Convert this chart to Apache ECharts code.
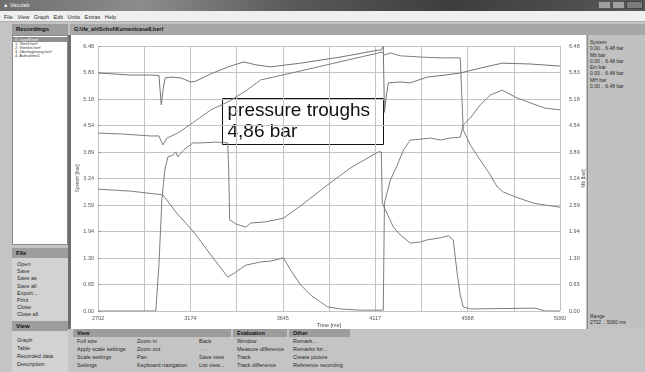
<!DOCTYPE html>
<html><head><meta charset="utf-8">
<script src="https://cdn.jsdelivr.net/npm/echarts@6/dist/echarts.min.js"></script>
<style>
html,body{margin:0;padding:0;width:645px;height:372px;overflow:hidden;background:#c4c4c4;font-family:"Liberation Sans",Arial,sans-serif;}
.a{position:absolute;white-space:nowrap;box-sizing:border-box;}
.s{font-size:5.5px;color:#2a2a2a;}
.h{background:#9d9d9d;font-weight:bold;font-size:6px;color:#111;padding-left:4px;}
#chart{position:absolute;left:0;top:0;width:645px;height:372px;z-index:5;}
</style></head>
<body>
<!-- title bar -->
<div class="a" style="left:0;top:0;width:645px;height:11px;background:linear-gradient(to right,#6f6f6f 0%,#8c8c8c 22%,#5a5a5a 45%,#3d3d3d 70%,#585858 100%);"></div>
<div class="a s" style="left:3px;top:2px;color:#f2f2f2;font-size:5.5px;">▲ Vaculab</div>
<div class="a" style="left:598px;top:1px;width:13px;height:8px;background:#a0a0a0;border:1px solid #555;"></div>
<div class="a" style="left:612px;top:1px;width:13px;height:8px;background:#a0a0a0;border:1px solid #555;"></div>
<div class="a" style="left:626px;top:1px;width:17px;height:8px;background:#7c7c7c;border:1px solid #444;"></div>
<!-- menu bar -->
<div class="a" style="left:0;top:11px;width:645px;height:11px;background:#efefef;border-bottom:1px solid #b0b0b0;"></div>
<div class="a s" style="left:4px;top:13.5px;word-spacing:3px;">File View Graph Edit Units Extras Help</div>
<!-- headers -->
<div class="a h" style="left:12px;top:24px;width:56px;height:11px;line-height:11px;">Recordings</div>
<div class="a h" style="left:70px;top:24px;width:575px;height:11px;line-height:11px;background:#a7a7a7;font-size:5.5px;">G:\ife_ah\Schol\Kurven\case8.herf</div>
<!-- left list -->
<div class="a" style="left:12px;top:35px;width:56px;height:210px;background:#fff;border:1px solid #8a8a8a;"></div>
<div class="a" style="left:13px;top:37px;width:54px;height:5px;background:#8e8e8e;"></div>
<div class="a" style="left:15px;top:37px;font-size:4px;line-height:5px;color:#fff;">0. case8.herf</div>
<div class="a" style="left:15px;top:42px;font-size:4px;line-height:4px;color:#333;">1. Ventil.herf<br>2. Ventilst.herf<br>3. Überlagerung.herf<br>4. Aufnahme1</div>
<!-- File -->
<div class="a h" style="left:12px;top:248px;width:56px;height:10px;line-height:10px;">File</div>
<div class="a" style="left:12px;top:258px;width:56px;height:63px;background:#d2d2d2;"></div>
<div class="a s" style="left:17px;top:261px;line-height:7.2px;">Open<br>Save<br>Save as<br>Save all<br>Export...<br>Print<br>Close<br>Close all</div>
<!-- View (left) -->
<div class="a h" style="left:12px;top:321px;width:56px;height:10px;line-height:10px;">View</div>
<div class="a" style="left:12px;top:331px;width:56px;height:41px;background:#d2d2d2;"></div>
<div class="a s" style="left:17px;top:336px;line-height:8px;">Graph<br>Table<br>Recorded data<br>Description</div>
<!-- chart panel -->
<div class="a" style="left:68px;top:35px;width:518px;height:294px;background:#fff;border-left:3px solid #6e6e6e;"></div>
<!-- right panel -->
<div class="a" style="left:587px;top:35px;width:58px;height:294px;background:#c1c1c1;border-left:1px solid #8a8a8a;"></div>
<div class="a s" style="left:590px;top:39px;line-height:6.3px;font-size:5px;">System<br>0.00 .. 6.48 bar<br>Mb bar<br>0.00 .. 6.48 bar<br>Ein bar<br>0.00 .. 6.48 bar<br>MH bar<br>0.00 .. 6.48 bar</div>
<div class="a s" style="left:590px;top:313px;line-height:6.3px;font-size:5px;">Range<br>2702 .. 5060 ms</div>
<!-- bottom toolbar -->
<div class="a h" style="left:73px;top:329px;width:158px;height:8px;line-height:8px;font-size:5.5px;">View</div>
<div class="a h" style="left:233px;top:329px;width:54px;height:8px;line-height:8px;font-size:5.5px;">Evaluation</div>
<div class="a h" style="left:289px;top:329px;width:61px;height:8px;line-height:8px;font-size:5.5px;">Other</div>
<div class="a s" style="left:77px;top:337px;line-height:8px;">Full size<br>Apply scale settings<br>Scale settings<br>Settings</div>
<div class="a s" style="left:137px;top:337px;line-height:8px;">Zoom in<br>Zoom out<br>Pan<br>Keyboard navigation</div>
<div class="a s" style="left:199px;top:337px;line-height:8px;">Back<br>· · ·<br>Save view<br>List view...</div>
<div class="a s" style="left:237px;top:337px;line-height:8px;">Window<br>Measure difference<br>Track<br>Track difference</div>
<div class="a s" style="left:293px;top:337px;line-height:8px;">Remark...<br>Remarks for...<br>Create picture<br>Reference recording</div>

<div id="chart"></div>
<script>
// ---- data (time in ms, pressure in bar) ----
const timeStart = 2702;
const timeEnd = 5060;
const yMax = 6.48;

const systemTime = [2702,2768,2870,2972,3013,3018,3025,3035,3045,3074,3125,3150,3176,3201,3278,3379,3446,3507,3583,3736,3940,4133,4148,4158,4164,4174,4184,4245,4296,4383,4474,4551,4653,4765,4907,5060];
const systemValue = [5.82,5.80,5.77,5.77,5.76,5.74,5.04,5.45,5.70,5.72,5.70,5.65,5.60,5.62,5.80,5.99,6.09,6.02,5.97,6.06,6.21,6.38,6.38,6.47,4.86,5.28,5.58,5.60,5.58,5.72,5.77,5.82,5.94,6.06,6.04,5.99];

const mbTime = [2702,2819,2972,3013,3033,3054,3109,3191,3278,3364,3456,3532,3634,3736,3889,4042,4133,4153,4164,4194,4245,4347,4449,4551,4561,4566,4602,4653,4704,4740,4771,4832,4923,4984,5060];
const mbValue = [4.35,4.33,4.28,4.28,4.06,4.23,4.35,4.62,4.92,5.11,5.38,5.65,5.76,5.87,6.04,6.21,6.31,6.33,6.26,6.31,6.24,6.21,6.19,6.19,6.16,4.43,4.06,3.69,3.33,3.03,2.91,2.79,2.64,2.59,2.54];

const einTime = [2702,2997,3013,3028,3043,3059,3084,3099,3109,3140,3186,3227,3303,3364,3369,3374,3405,3456,3481,3557,3649,3736,3873,3991,4133,4148,4153,4169,4210,4245,4296,4347,4383,4449,4490,4515,4535,4551,4566,4602,4933,4984,5060];
const einValue = [0,0,1.12,2.71,3.45,3.77,3.81,3.89,3.77,3.94,4.11,4.11,4.13,4.11,3.45,2.23,2.13,2.05,2.15,2.18,2.27,2.57,3.08,3.50,3.89,3.89,2.64,2.47,2.05,1.86,1.66,1.69,1.74,1.79,1.84,1.74,0.93,0.39,0.10,0.05,0.07,0,0];

const mhTime = [2702,2870,3033,3099,3191,3278,3364,3369,3405,3456,3532,3583,3649,3685,3736,3787,3838,3873,3940,4042,4158,4164,4194,4230,4261,4296,4347,4398,4449,4500,4551,4566,4602,4653,4704,4765,4832,4907,4984,5060];
const mhValue = [2.98,2.93,2.84,2.42,1.93,1.37,0.83,0.81,0.95,1.12,1.20,1.22,1.30,1.00,0.64,0.39,0.22,0.10,0.05,0.02,0.02,2.64,3.20,3.57,3.94,4.18,4.20,4.23,4.18,4.23,4.25,4.55,4.72,5.04,5.28,5.40,5.23,5.09,4.96,4.92];

const annotationLines = ['pressure troughs', '4,86 bar'];

// ---- build ----
const span = timeEnd - timeStart;
function pts(ts, vs) { return ts.map((t, i) => [t - timeStart, vs[i]]); }
const lineColor = '#7d7d7d';
function mk(name, ts, vs, color) {
  return {name, type:'line', data:pts(ts, vs), showSymbol:false, symbol:'none', silent:true,
    lineStyle:{color:color, width:1}, itemStyle:{color:color}, z:3};
}
const FONT = 'Liberation Sans';
const yLab = {fontSize:5.5, color:'#555', fontFamily:FONT, formatter:v => v.toFixed(2)};

const chart = echarts.init(document.getElementById('chart'), null, {renderer:'canvas'});
chart.setOption({
  animation:false,
  backgroundColor:'transparent',
  grid:{left:98, top:46, width:462, height:265},
  xAxis:{type:'value', min:0, max:span, interval:span/5,
    axisLine:{show:false}, axisTick:{show:false},
    axisLabel:{fontSize:5.5, color:'#555', fontFamily:FONT, margin:4, formatter:v => String(Math.round(v + timeStart))},
    splitLine:{show:true, lineStyle:{color:'#c4c4c4', width:1}},
    minorTick:{show:false, splitNumber:2},
    minorSplitLine:{show:true, lineStyle:{color:'#c4c4c4', width:1}},
    name:'Time [ms]', nameLocation:'middle', nameGap:11, nameMoveOverlap:false,
    nameTextStyle:{fontSize:5.5, color:'#444', fontFamily:FONT}},
  yAxis:[
    {type:'value', position:'left', min:0, max:yMax, interval:yMax/10,
     axisLine:{show:false}, axisTick:{show:true, inside:true, length:3, lineStyle:{color:'#999'}},
     axisLabel:Object.assign({margin:4}, yLab),
     splitLine:{show:true, lineStyle:{color:'#c4c4c4', width:1}},
     name:'System [bar]', nameLocation:'middle', nameGap:18, nameMoveOverlap:false,
     nameTextStyle:{fontSize:5, color:'#555', fontFamily:FONT}},
    {type:'value', position:'right', min:0, max:yMax, interval:yMax/10,
     axisLine:{show:false}, axisTick:{show:false},
     axisLabel:Object.assign({margin:9}, yLab),
     splitLine:{show:false},
     name:'Mb [bar]', nameLocation:'middle', nameGap:21, nameMoveOverlap:false,
     nameTextStyle:{fontSize:5, color:'#555', fontFamily:FONT}}
  ],
  series:[
    mk('System', systemTime, systemValue, '#747474'),
    mk('Mb', mbTime, mbValue, lineColor),
    mk('Ein', einTime, einValue, lineColor),
    mk('MH', mhTime, mhValue, lineColor)
  ],
  graphic:[{
    type:'group', left:222, top:98, z:100,
    children:[
      {type:'rect', shape:{x:0, y:0, width:161, height:46}, style:{fill:'#fff', stroke:'#111', lineWidth:1}},
      {type:'text', x:5, y:3, style:{text:annotationLines[0], fontSize:19, fontFamily:FONT, fill:'#111', textVerticalAlign:'top'}},
      {type:'text', x:5, y:24, style:{text:annotationLines[1], fontSize:19, fontFamily:FONT, fill:'#111', textVerticalAlign:'top'}}
    ]
  }]
});
</script>
</body></html>
